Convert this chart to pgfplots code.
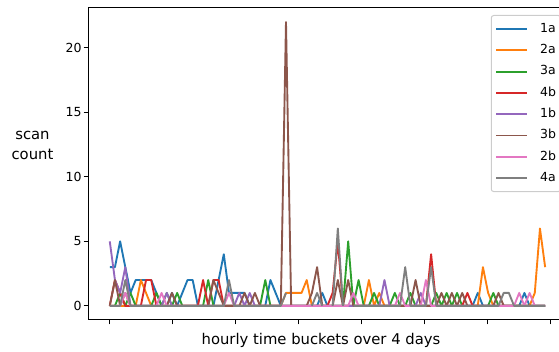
\documentclass[border=0pt]{standalone}
\usepackage{pgfplots}
\pgfplotsset{compat=1.18}
\usepackage{pgfplotstable}
\usepackage{fontspec}
\setmainfont{DejaVu Sans}
\definecolor{cA}{HTML}{1F77B4}
\definecolor{cB}{HTML}{FF7F0E}
\definecolor{cC}{HTML}{2CA02C}
\definecolor{cD}{HTML}{D62728}
\definecolor{cE}{HTML}{9467BD}
\definecolor{cF}{HTML}{8C564B}
\definecolor{cG}{HTML}{E377C2}
\definecolor{cH}{HTML}{7F7F7F}
\definecolor{legframe}{HTML}{CCCCCC}
\pgfplotstableread{
i a1 a2 a3 b4 b1 b3 b2 a4
0 3 0 0 0 5 0 0 0
1 3 0 0 2 2 2 0 0
2 5 0 1 1 1 0 0 0
3 3 0 0 0 3 1 1 2
4 1 0 1 0 0 0 0 0
5 2 0 0 0 0 0 0 0
6 2 2 0 0 0 0 0 0
7 2 1 0 2 0 0 0 0
8 2 0 0 2 0 0 0 0
9 1 0 1 0 0 0 0 0
10 0 0 0 0 0 0 1 0
11 0 0 1 0 1 0 0 0
12 1 0 0 0 0 1 0 0
13 0 0 1 0 0 0 0 0
14 1 0 0 0 0 0 0 0
15 2 0 0 0 0 0 0 0
16 2 0 0 0 0 0 0 0
17 0 0 0 0 0 0 0 0
18 0 0 0 2 0 0 0 0
19 0 0 2 0 0 0 0 0
20 0 0 0 2 0 2 0 0
21 2 0 0 2 0 1 0 0
22 4 0 0 0 0 0 0 0
23 1 0 0 0 0 0 1 2
24 1 0 0 0 0 0 0 0
25 1 0 0 0 1 0 0 0
26 1 0 0 0 0 1 0 0
27 0 0 0 0 1 0 0 0
28 0 0 0 0 0 1 0 0
29 0 0 0 0 0 0 0 0
30 0 0 2 0 0 0 0 0
31 2 0 0 0 0 0 0 0
32 1 0 0 0 0 0 0 0
33 0 0 0 0 0 0 0 0
34 0 1 0 0 0 22 0 1
35 0 1 0 0 0 0 0 nan
36 0 1 0 0 0 0 0 nan
37 0 1 0 0 0 0 0 nan
38 0 2 0 0 0 0 0 nan
39 0 0 0 0 0 1 0 0
40 0 0 0 0 0 3 0 1
41 1 0 0 0 0 0 0 0
42 0 0 0 0 0 0 0 nan
43 0 0 0 1 0 0 0 0
44 0 0 0 5 0 2 0 6
45 0 0 0 0 0 0 0 0
46 0 0 5 0 0 2 0 nan
47 0 0 0 0 0 0 1 0
48 0 0 2 0 0 0 0 0
49 0 0 0 0 0 0 0 0
50 0 2 0 0 0 0 0 0
51 0 0 1 0 0 0 0 0
52 0 1 0 0 0 0 0 0
53 0 0 0 0 2 0 0 0
54 0 0 0 0 0 0 0 0
55 0 0 1 0 0 0 0 0
56 0 0 0 0 0 0 1 0
57 0 0 0 0 0 0 0 3
58 0 0 1 0 0 0 0 0
59 0 0 0 0 0 2 0 0
60 0 0 0 0 1 0 0 0
61 0 0 0 0 0 0 2 0
62 0 0 0 4 0 0 0 3
63 0 0 1 0 0 0 0 0
64 0 0 0 0 0 1 0 0
65 0 0 1 0 0 0 0 0
66 0 0 0 0 0 1 0 0
67 0 0 1 0 0 0 0 0
68 0 0 0 0 0 1 0 0
69 0 0 0 1 0 0 0 0
70 0 0 0 0 0 0 0 0
71 1 0 0 0 0 0 0 0
72 0 3 0 0 0 0 0 0
73 0 1 0 0 0 0 0 0
74 0 0 1 0 0 0 0 0
75 0 0 0 0 0 1 0 0
76 0 0 0 0 0 0 0 1
77 0 0 0 0 0 0 0 1
78 0 0 0 0 0 0 0 0
79 0 0 0 0 0 0 1 0
80 1 0 0 0 0 0 0 0
81 0 0 0 0 0 0 1 0
82 0 1 0 0 0 0 0 0
83 0 6 0 0 0 0 0 0
84 0 3 0 0 0 0 0 0
}\datatable
\begin{document}
\begin{tikzpicture}
\path[use as bounding box] (0,0) rectangle (559pt,352pt);
\clip (0,0) rectangle (559pt,352pt);
\begin{axis}[
  at={(88pt,32pt)}, anchor=south west,
  scale only axis, width=478.9pt, height=312pt,
  xmin=-4.2, xmax=88.2, ymin=-1.1, ymax=23.1,
  xtick={-0.13,12.04,24.21,36.38,48.55,60.72,72.89,85.06},
  xticklabels={},
  ytick={0,5,10,15,20},
  xtick pos=bottom, ytick pos=left,
  tick align=outside,
  major tick length=4.4pt,
  tick style={black, line width=1pt},
  axis line style={black, line width=1pt},
  /pgf/number format/assume math mode=true,
  yticklabel style={font=\fontsize{12.5}{15}\selectfont, xshift=1.5pt},
  unbounded coords=jump,
  xlabel={hourly time buckets over 4 days},
  xlabel style={at={(axis description cs:0.4865,-0.064)}, anchor=center, font=\fontsize{14.8}{17}\selectfont},
  ylabel={scan\\count},
  ylabel style={rotate=-90, at={(axis description cs:-0.116,0.558)}, anchor=center, align=center, font=\fontsize{14.8}{20}\selectfont},
  every axis plot/.append style={line width=1.875pt, line join=round, mark=none},
  legend cell align=left,
  legend image code/.code={\draw[#1, line width=1.875pt] (0pt,0pt) -- (30.3pt,0pt);},
  legend style={at={(rel axis cs:0.841,0.9776)}, anchor=north west,
    draw=legframe, line width=1pt, rounded corners=2.5pt, fill=white, fill opacity=0.8, text opacity=1,
    font=\fontsize{12.5}{15}\selectfont,
    inner xsep=4pt, inner ysep=7.5pt, row sep=9.3pt,
    nodes={inner sep=0pt, text width=16.6pt, align=left, text height=9.3pt, text depth=2.7pt},
    /tikz/every odd column/.append style={column sep=12.7pt}},
]
\addplot[cA] table[x=i,y=a1]{\datatable};
\addplot[cB] table[x=i,y=a2]{\datatable};
\addplot[cC] table[x=i,y=a3]{\datatable};
\addplot[cD] table[x=i,y=b4]{\datatable};
\addplot[cE] table[x=i,y=b1]{\datatable};
\addplot[cF] table[x=i,y=b3]{\datatable};
\addplot[cG] table[x=i,y=b2]{\datatable};
\addplot[cH] table[x=i,y=a4]{\datatable};
\legend{1a,2a,3a,4b,1b,3b,2b,4a}
\end{axis}
\end{tikzpicture}
\end{document}
